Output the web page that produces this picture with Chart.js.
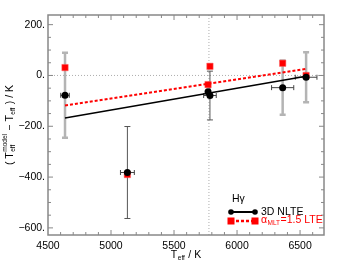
<!DOCTYPE html>
<html>
<head>
<meta charset="utf-8">
<script src="https://cdn.jsdelivr.net/npm/chart.js@4.4.0/dist/chart.umd.min.js"></script>
<style>
  html, body { margin: 0; padding: 0; background: #fff; }
  #wrap { width: 341px; height: 264px; }
</style>
</head>
<body>
<div id="wrap"><canvas id="c" width="341" height="264"></canvas></div>
<script>
// stars: Teff, offsets for 3D NLTE and 1D LTE (alpha_MLT=1.5)
const temps = [4635, 5130, 5770, 5785, 6362, 6548];
const nlteVals = [-78, -382, -64, -79, -48, -7];
const lteVals = [31, -390, -36, 36, 48, 0];
const xErr = [34, 55, 0, 50, 88, 86];
const yErr = [167, 181, 0, 96, 107, 98];

// linear fits
const fitTemps = [4635, 6548];
const nlteFit = [-167, -3];
const lteFit = [-118, 26];

const xTicks = [4500, 5000, 5500, 6000, 6500];
const yTicks = [-600, -400, -200, 0, 200];
const sunTeff = 5777;

const thickBar = [true, false, false, false, true, true];
const FONT = '"Liberation Sans", Arial, sans-serif';

function fmtY(v) {
  return (v < 0 ? '\u2212' + (-v) : String(v)) + '.';
}

// text with sub/superscripts, drawn left to right
function richText(ctx, parts, x, y, size, align) {
  const small = size * 0.62;
  const w = parts.map(p => {
    if (p.t !== undefined) { ctx.font = size + 'px ' + FONT; return ctx.measureText(p.t).width; }
    ctx.font = small + 'px ' + FONT;
    return Math.max(p.sub ? ctx.measureText(p.sub).width : 0, p.sup ? ctx.measureText(p.sup).width : 0) + 1;
  });
  let cx = align === 'center' ? x - w.reduce((a, b) => a + b, 0) / 2 : x;
  ctx.textAlign = 'left';
  ctx.textBaseline = 'middle';
  parts.forEach((p, i) => {
    if (p.t !== undefined) {
      ctx.font = size + 'px ' + FONT;
      ctx.fillText(p.t, cx, y);
    } else {
      ctx.font = small + 'px ' + FONT;
      if (p.sub) ctx.fillText(p.sub, cx + 0.5, y + size * 0.35);
      if (p.sup) ctx.fillText(p.sup, cx + 0.5, y - size * 0.45);
    }
    cx += w[i];
  });
}

const decorations = {
  id: 'decorations',
  beforeDatasetsDraw(chart) {
    const { ctx, chartArea: a, scales: { x, y } } = chart;
    ctx.save();
    // reference lines
    ctx.strokeStyle = '#999';
    ctx.lineWidth = 0.8;
    ctx.setLineDash([1, 2]);
    ctx.beginPath();
    ctx.moveTo(a.left, y.getPixelForValue(0));
    ctx.lineTo(a.right, y.getPixelForValue(0));
    ctx.moveTo(x.getPixelForValue(sunTeff), a.top);
    ctx.lineTo(x.getPixelForValue(sunTeff), a.bottom);
    ctx.stroke();
    ctx.setLineDash([]);

    // error bars
    temps.forEach((t, i) => {
      const px = x.getPixelForValue(t);
      const py = y.getPixelForValue(nlteVals[i]);
      if (yErr[i]) {
        const y1 = y.getPixelForValue(nlteVals[i] + yErr[i]);
        const y2 = y.getPixelForValue(nlteVals[i] - yErr[i]);
        ctx.strokeStyle = thickBar[i] ? '#b4b4b4' : '#555';
        ctx.lineWidth = thickBar[i] ? 2.5 : 1;
        ctx.beginPath();
        ctx.moveTo(px, y1); ctx.lineTo(px, y2);
        ctx.moveTo(px - 3, y1); ctx.lineTo(px + 3, y1);
        ctx.moveTo(px - 3, y2); ctx.lineTo(px + 3, y2);
        ctx.stroke();
      }
      if (xErr[i]) {
        const x1 = x.getPixelForValue(t - xErr[i]);
        const x2 = x.getPixelForValue(t + xErr[i]);
        ctx.strokeStyle = '#444';
        ctx.lineWidth = 1;
        ctx.beginPath();
        ctx.moveTo(x1, py); ctx.lineTo(x2, py);
        ctx.moveTo(x1, py - 2.5); ctx.lineTo(x1, py + 2.5);
        ctx.moveTo(x2, py - 2.5); ctx.lineTo(x2, py + 2.5);
        ctx.stroke();
      }
    });
    ctx.restore();
  },
  afterDraw(chart) {
    const { ctx, chartArea: a, scales: { x, y } } = chart;
    ctx.save();
    // frame
    ctx.strokeStyle = '#888';
    ctx.lineWidth = 1.5;
    ctx.strokeRect(a.left, a.top, a.right - a.left, a.bottom - a.top);

    // inward ticks on all four sides
    ctx.lineWidth = 1;
    ctx.beginPath();
    for (let v = 4600; v < x.max; v += 100) {
      const px = x.getPixelForValue(v);
      const len = v % 500 === 0 ? 5 : 3;
      ctx.moveTo(px, a.bottom); ctx.lineTo(px, a.bottom - len);
      ctx.moveTo(px, a.top); ctx.lineTo(px, a.top + len);
    }
    for (let v = -600; v < y.max; v += 50) {
      const py = y.getPixelForValue(v);
      const len = v % 200 === 0 ? 5 : 3;
      ctx.moveTo(a.left, py); ctx.lineTo(a.left + len, py);
      ctx.moveTo(a.right, py); ctx.lineTo(a.right - len, py);
    }
    ctx.stroke();

    // axis titles
    ctx.fillStyle = '#000';
    richText(ctx, [{ t: 'T' }, { sub: 'eff' }, { t: ' / K' }], (a.left + a.right) / 2, 255, 10.5, 'center');
    ctx.save();
    ctx.translate(10, (a.top + a.bottom) / 2);
    ctx.rotate(-Math.PI / 2);
    richText(ctx, [{ t: '( T' }, { sub: 'eff', sup: 'model' }, { t: ' \u2212 T' }, { sub: 'eff' }, { t: ' ) / K' }], 0, 0, 10.5, 'center');
    ctx.restore();

    // legend
    ctx.font = '10.5px ' + FONT;
    ctx.textAlign = 'left';
    ctx.textBaseline = 'middle';
    ctx.fillText('H\u03b3', 232, 199);
    ctx.strokeStyle = '#000';
    ctx.lineWidth = 2;
    ctx.beginPath(); ctx.moveTo(231, 212); ctx.lineTo(255, 212); ctx.stroke();
    ctx.fillStyle = '#000';
    [231, 255].forEach(lx => { ctx.beginPath(); ctx.arc(lx, 212, 2.8, 0, Math.PI * 2); ctx.fill(); });
    ctx.fillText('3D NLTE', 261, 212);
    ctx.strokeStyle = '#ff0000';
    ctx.lineWidth = 2.5;
    ctx.setLineDash([3, 2]);
    ctx.beginPath(); ctx.moveTo(231, 221); ctx.lineTo(255, 221); ctx.stroke();
    ctx.setLineDash([]);
    ctx.fillStyle = '#ff0000';
    [231, 255].forEach(lx => ctx.fillRect(lx - 3.5, 217.5, 7, 7));
    richText(ctx, [{ t: '\u03b1' }, { sub: 'MLT' }, { t: '=1.5 LTE' }], 261, 220, 10.5, 'left');
    ctx.restore();
  }
};

new Chart(document.getElementById('c'), {
  data: {
    datasets: [
      {
        type: 'line',
        data: fitTemps.map((t, i) => ({ x: t, y: nlteFit[i] })),
        borderColor: '#000', borderWidth: 1.5, pointRadius: 0
      },
      {
        type: 'line',
        data: fitTemps.map((t, i) => ({ x: t, y: lteFit[i] })),
        borderColor: '#ff0000', borderWidth: 2, borderDash: [3, 2], pointRadius: 0
      },
      {
        type: 'scatter',
        data: temps.map((t, i) => ({ x: t, y: nlteVals[i] })),
        pointStyle: 'circle', pointRadius: 3.5,
        backgroundColor: '#000', borderColor: '#000', borderWidth: 0
      },
      {
        type: 'scatter',
        data: temps.map((t, i) => ({ x: t, y: lteVals[i] })),
        pointStyle: 'rect', pointRadius: 4.5,
        backgroundColor: '#ff0000', borderColor: '#ff6060', borderWidth: 0.5
      }
    ]
  },
  options: {
    responsive: false,
    animation: false,
    layout: { padding: { top: 15, right: 17, bottom: 0, left: 0 } },
    plugins: { legend: { display: false }, tooltip: { enabled: false } },
    scales: {
      x: {
        type: 'linear', min: 4500, max: 6690,
        grid: { display: false, drawTicks: false },
        border: { display: false },
        afterBuildTicks: s => { s.ticks = xTicks.map(v => ({ value: v })); },
        afterFit: s => { s.height = 29; },
        ticks: { padding: 5, color: '#000', font: { family: FONT, size: 10.5 }, maxRotation: 0, callback: v => String(v) }
      },
      y: {
        type: 'linear', min: -628, max: 238,
        grid: { display: false, drawTicks: false },
        border: { display: false },
        afterBuildTicks: s => { s.ticks = yTicks.map(v => ({ value: v })); },
        afterFit: s => { s.width = 48; },
        ticks: { padding: 3, color: '#000', font: { family: FONT, size: 10.5 }, callback: v => fmtY(v) }
      }
    }
  },
  plugins: [decorations]
});
</script>
</body>
</html>
